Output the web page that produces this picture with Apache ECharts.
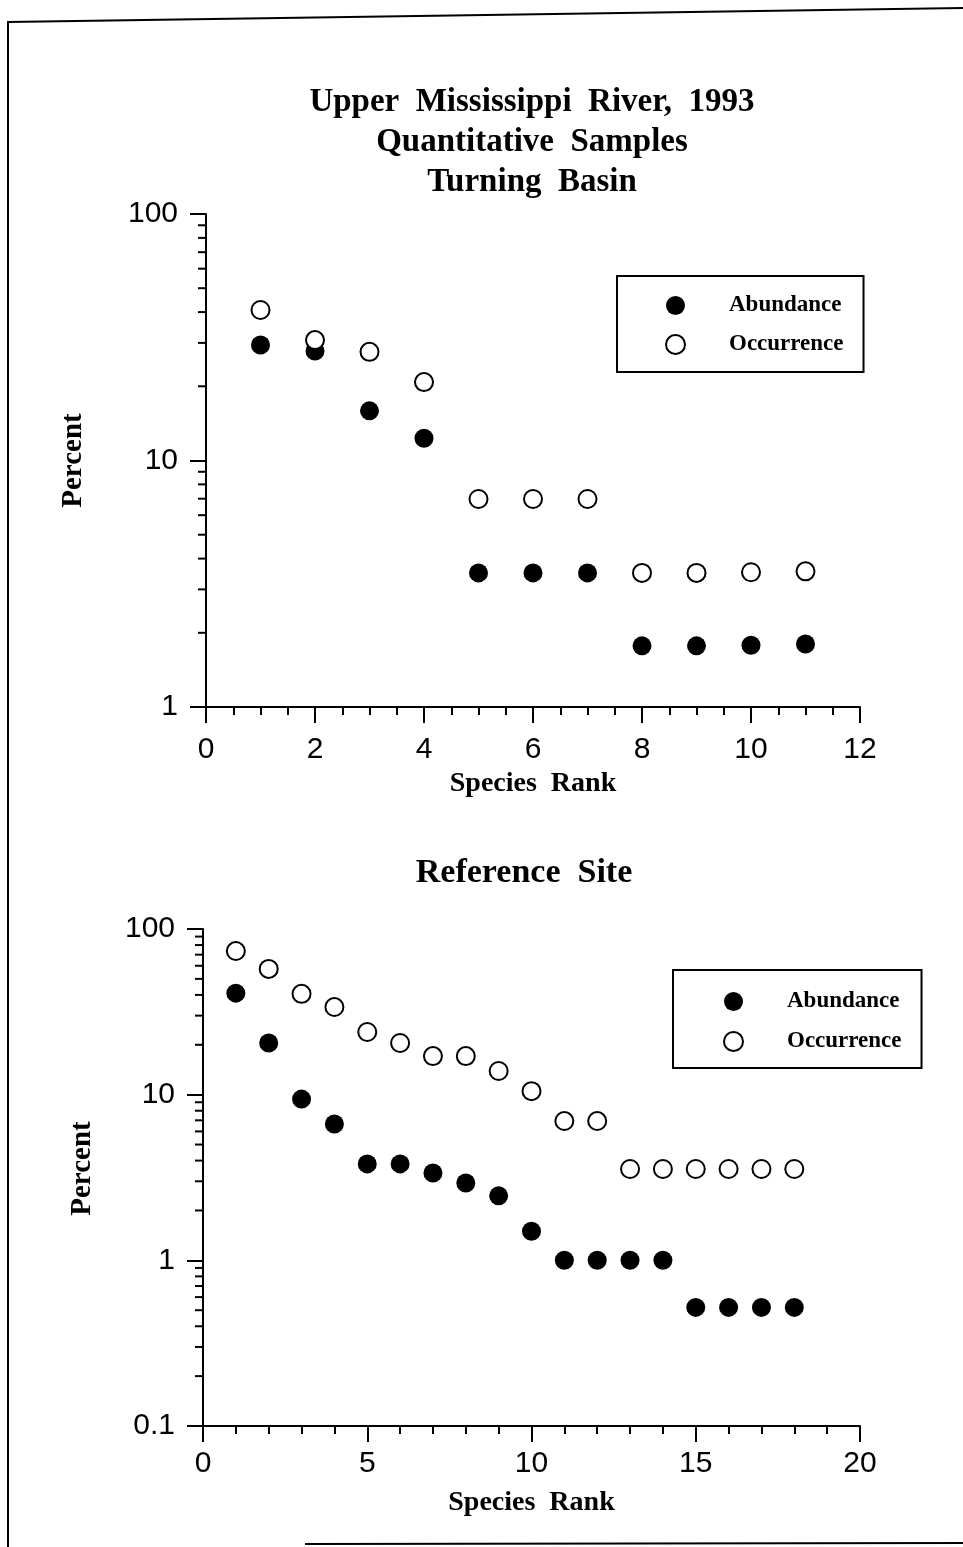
<!DOCTYPE html>
<html>
<head>
<meta charset="utf-8">
<script src="https://cdn.jsdelivr.net/npm/echarts@6/dist/echarts.min.js"></script>
<style>
html,body{margin:0;padding:0;background:#fff;}
#c{width:963px;height:1547px;}
</style>
</head>
<body>
<div id="c"></div>
<script>
// ---- data ----
const ranksTop = [1, 2, 3, 4, 5, 6, 7, 8, 9, 10, 11];
const abundanceTop = [29.4, 27.8, 15.9, 12.3, 3.5, 3.5, 3.5, 1.77, 1.77, 1.78, 1.8];
const occurrenceTop = [40.8, 30.8, 27.6, 20.8, 6.98, 6.98, 6.98, 3.5, 3.5, 3.52, 3.55];

const ranksBottom = [1, 2, 3, 4, 5, 6, 7, 8, 9, 10, 11, 12, 13, 14, 15, 16, 17, 18];
const abundanceBottom = [41, 20.5, 9.4, 6.65, 3.82, 3.82, 3.37, 2.93, 2.45, 1.5, 1.0, 1.0, 1.0, 1.0, 0.52, 0.52, 0.52, 0.52];
const occurrenceBottom = [73.6, 57.4, 40.6, 33.8, 23.9, 20.5, 17.1, 17.1, 13.9, 10.5, 6.93, 6.93, 3.56, 3.56, 3.56, 3.56, 3.56, 3.56];

const minorTicksTop = [2, 3, 4, 5, 6, 7, 8, 9, 20, 30, 40, 50, 60, 70, 80, 90];
const minorTicksBottom = [0.2, 0.3, 0.4, 0.5, 0.6, 0.7, 0.8, 0.9, 2, 3, 4, 5, 6, 7, 8, 9, 20, 30, 40, 50, 60, 70, 80, 90];

const titleTop = 'Upper  Mississippi  River,  1993\nQuantitative  Samples\nTurning  Basin';
const titleBottom = 'Reference  Site';
const xName = 'Species  Rank';
const yName = 'Percent';
const seriesNames = ['Abundance', 'Occurrence'];

// ---- styles ----
const SERIF = "'Liberation Serif', 'Times New Roman', serif";
const SANS = "'Liberation Sans', Arial, sans-serif";
const BLACK = '#000';

function pairs(xs, ys) { return xs.map((x, i) => [x, ys[i]]); }

function minorTickRender(params, api) {
  const p = api.coord([0, api.value(1)]);
  return {
    type: 'line',
    shape: { x1: p[0] - 8, y1: p[1], x2: p[0], y2: p[1] },
    style: { stroke: BLACK, lineWidth: 2 }
  };
}

function xAxisCfg(gridIndex, max, interval, minorSplit, margin) {
  return {
    type: 'value', gridIndex, min: 0, max, interval,
    name: xName, nameLocation: 'middle', nameGap: 63,
    nameTextStyle: { fontFamily: SERIF, fontWeight: 'bold', fontSize: 28, color: BLACK },
    axisLine: { show: true, onZero: false, lineStyle: { color: BLACK, width: 2 } },
    axisTick: { show: true, inside: false, length: 16, lineStyle: { color: BLACK, width: 2 } },
    minorTick: { show: true, splitNumber: minorSplit, length: 8, lineStyle: { color: BLACK, width: 2 } },
    axisLabel: { fontFamily: SANS, fontSize: 30, color: BLACK, margin },
    splitLine: { show: false }
  };
}

function yAxisCfg(gridIndex, min, nameGap, namePad) {
  return {
    type: 'log', logBase: 10, gridIndex, min, max: 100,
    name: yName, nameLocation: 'middle', nameGap,
    nameTextStyle: { fontFamily: SERIF, fontWeight: 'bold', fontSize: 29, color: BLACK, padding: namePad },
    axisLine: { show: true, onZero: false, lineStyle: { color: BLACK, width: 2 } },
    axisTick: { show: true, inside: false, length: 16, lineStyle: { color: BLACK, width: 2 } },
    axisLabel: { fontFamily: SANS, fontSize: 30, color: BLACK, margin: 28 },
    splitLine: { show: false }
  };
}

const filledStyle = { color: BLACK, opacity: 1 };
const openStyle = { color: '#fff', borderColor: BLACK, borderWidth: 2, opacity: 1 };

function legendCfg(left, top, padding, gap) {
  return {
    left, top, orient: 'vertical',
    data: seriesNames,
    itemWidth: 19, itemHeight: 19, itemGap: gap,
    padding,
    borderColor: BLACK, borderWidth: 2, backgroundColor: '#fff',
    selectedMode: false,
    textStyle: { fontFamily: SERIF, fontWeight: 'bold', fontSize: 23, lineHeight: 19, color: BLACK, padding: [0, 0, 0, 39] }
  };
}

const option = {
  backgroundColor: '#fff',
  animation: false,
  title: [
    { text: titleTop, left: 532, top: 82, textAlign: 'center', padding: 0,
      textStyle: { fontFamily: SERIF, fontWeight: 'bold', fontSize: 33, lineHeight: 40, color: BLACK } },
    { text: titleBottom, left: 524, top: 853, textAlign: 'center', padding: 0,
      textStyle: { fontFamily: SERIF, fontWeight: 'bold', fontSize: 34, lineHeight: 40, color: BLACK } }
  ],
  legend: [
    legendCfg(617, 276, [18, 20, 16, 48], 16),
    legendCfg(673, 970, [20, 20, 15, 50], 17)
  ],
  grid: [
    { left: 206, top: 214, width: 654, height: 493, containLabel: false },
    { left: 203, top: 929, width: 657, height: 497, containLabel: false }
  ],
  xAxis: [
    xAxisCfg(0, 12, 2, 4, 28),
    xAxisCfg(1, 20, 5, 5, 23)
  ],
  yAxis: [
    yAxisCfg(0, 1, 118, [0, 0, 0, 0]),
    yAxisCfg(1, 0.1, 106, [0, 0, 0, 18])
  ],
  series: [
    { name: 'Abundance', type: 'scatter', xAxisIndex: 0, yAxisIndex: 0, symbol: 'circle', symbolSize: 19,
      itemStyle: filledStyle, data: pairs(ranksTop, abundanceTop) },
    { name: 'Occurrence', type: 'scatter', xAxisIndex: 0, yAxisIndex: 0, symbol: 'circle', symbolSize: 18,
      itemStyle: openStyle, data: pairs(ranksTop, occurrenceTop) },
    { name: 'Abundance', type: 'scatter', xAxisIndex: 1, yAxisIndex: 1, symbol: 'circle', symbolSize: 19,
      itemStyle: filledStyle, data: pairs(ranksBottom, abundanceBottom) },
    { name: 'Occurrence', type: 'scatter', xAxisIndex: 1, yAxisIndex: 1, symbol: 'circle', symbolSize: 18,
      itemStyle: openStyle, data: pairs(ranksBottom, occurrenceBottom) },
    { name: 'minorTop', type: 'custom', xAxisIndex: 0, yAxisIndex: 0, silent: true, clip: false,
      renderItem: minorTickRender, data: minorTicksTop.map(v => [0, v]) },
    { name: 'minorBottom', type: 'custom', xAxisIndex: 1, yAxisIndex: 1, silent: true, clip: false,
      renderItem: minorTickRender, data: minorTicksBottom.map(v => [0, v]) }
  ],
  graphic: [
    { type: 'polyline', silent: true, shape: { points: [[8, 1547], [8, 22], [963, 8]] },
      style: { stroke: BLACK, lineWidth: 2, fill: null } },
    { type: 'line', silent: true, shape: { x1: 305, y1: 1544, x2: 963, y2: 1543 },
      style: { stroke: BLACK, lineWidth: 2 } }
  ]
};

const chart = echarts.init(document.getElementById('c'), null, { renderer: 'canvas' });
chart.setOption(option);
</script>
</body>
</html>
